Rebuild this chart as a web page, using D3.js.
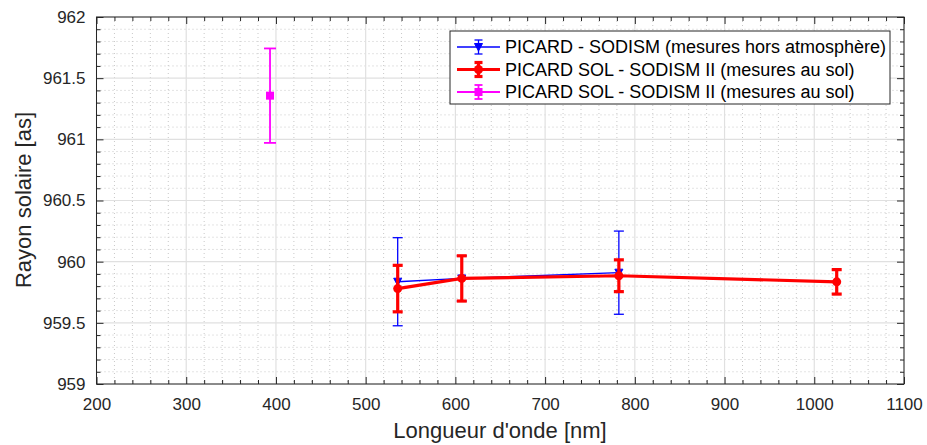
<!DOCTYPE html>
<html>
<head>
<meta charset="utf-8">
<script src="https://cdn.jsdelivr.net/npm/d3@7"></script>
<style>
  body { margin: 0; background: #fff; }
  svg { font-family: "Liberation Sans", Arial, sans-serif; }
</style>
</head>
<body>
<svg width="927" height="445"></svg>
<script>
// data
var horsWl = [535.7, 607.1, 782.2];
var horsRayon = [959.836, 959.863, 959.91];
var horsErr = [0.36, 0.185, 0.34];

var solWl = [535.7, 607.1, 782.2, 1025];
var solRayon = [959.78, 959.863, 959.885, 959.835];
var solErr = [0.19, 0.185, 0.13, 0.1];

var sol2Wl = [393.4];
var sol2Rayon = [961.357];
var sol2Err = [0.386];

var xTicks = [200, 300, 400, 500, 600, 700, 800, 900, 1000, 1100];
var yTicks = [959, 959.5, 960, 960.5, 961, 961.5, 962];

var legendLabels = [
  "PICARD - SODISM (mesures hors atmosphère)",
  "PICARD SOL - SODISM II (mesures au sol)",
  "PICARD SOL - SODISM II (mesures au sol)"
];

var svg = d3.select("svg"),
  margin = { top: 17, right: 23, bottom: 61, left: 96.5 },
  width = +svg.attr("width") - margin.left - margin.right,
  height = +svg.attr("height") - margin.top - margin.bottom;

var x = d3.scaleLinear().domain([200, 1100]).range([0, width]),
  y = d3.scaleLinear().domain([959, 962]).range([height, 0]);

var g = svg.append("g")
  .attr("transform", "translate(" + margin.left + "," + margin.top + ")");

// minor grid (dotted)
var xMinor = d3.range(220, 1100, 20).filter(function (v) { return v % 100 !== 0; });
var yMinor = d3.range(0, 30).map(function (i) { return 959 + i * 0.1; })
  .filter(function (v, i) { return i % 5 !== 0; });

g.selectAll(".xminor").data(xMinor).enter().append("line")
  .attr("x1", function (d) { return x(d); }).attr("x2", function (d) { return x(d); })
  .attr("y1", 0).attr("y2", height)
  .attr("stroke", "#c8c8c8").attr("stroke-dasharray", "1,3");
g.selectAll(".yminor").data(yMinor).enter().append("line")
  .attr("y1", function (d) { return y(d); }).attr("y2", function (d) { return y(d); })
  .attr("x1", 0).attr("x2", width)
  .attr("stroke", "#c8c8c8").attr("stroke-dasharray", "1,3");

// major grid
g.selectAll(".xgrid").data(xTicks).enter().append("line")
  .attr("x1", function (d) { return x(d); }).attr("x2", function (d) { return x(d); })
  .attr("y1", 0).attr("y2", height)
  .attr("stroke", "#e0e0e0").attr("stroke-width", 1.2);
g.selectAll(".ygrid").data(yTicks).enter().append("line")
  .attr("y1", function (d) { return y(d); }).attr("y2", function (d) { return y(d); })
  .attr("x1", 0).attr("x2", width)
  .attr("stroke", "#e0e0e0").attr("stroke-width", 1.2);

// axes with inward ticks
function styleAxis(sel) {
  sel.select(".domain").remove();
  sel.selectAll(".tick line").attr("stroke", "#262626");
  sel.selectAll(".tick text").attr("fill", "#262626").style("font-size", "17px");
}

g.append("g").attr("transform", "translate(0," + height + ")")
  .call(d3.axisBottom(x).tickValues(xTicks).tickSizeInner(-7).tickSizeOuter(0).tickPadding(14)
    .tickFormat(d3.format("d")))
  .call(styleAxis);
g.append("g").attr("transform", "translate(0," + height + ")")
  .call(d3.axisBottom(x).tickValues(xMinor).tickSizeInner(-4).tickSizeOuter(0).tickFormat(""))
  .call(styleAxis);
g.append("g")
  .call(d3.axisTop(x).tickValues(xTicks).tickSizeInner(-7).tickSizeOuter(0).tickFormat(""))
  .call(styleAxis);
g.append("g")
  .call(d3.axisTop(x).tickValues(xMinor).tickSizeInner(-4).tickSizeOuter(0).tickFormat(""))
  .call(styleAxis);

g.append("g")
  .call(d3.axisLeft(y).tickValues(yTicks).tickSizeInner(-7).tickSizeOuter(0).tickPadding(11)
    .tickFormat(d3.format("")))
  .call(styleAxis);
g.append("g")
  .call(d3.axisLeft(y).tickValues(yMinor).tickSizeInner(-4).tickSizeOuter(0).tickFormat(""))
  .call(styleAxis);
g.append("g").attr("transform", "translate(" + width + ",0)")
  .call(d3.axisRight(y).tickValues(yTicks).tickSizeInner(-7).tickSizeOuter(0).tickFormat(""))
  .call(styleAxis);
g.append("g").attr("transform", "translate(" + width + ",0)")
  .call(d3.axisRight(y).tickValues(yMinor).tickSizeInner(-4).tickSizeOuter(0).tickFormat(""))
  .call(styleAxis);

g.append("rect")
  .attr("width", width).attr("height", height)
  .attr("fill", "none").attr("stroke", "#262626").attr("stroke-width", 1);

// axis labels
svg.append("text")
  .attr("x", 500).attr("y", 438)
  .attr("text-anchor", "middle")
  .attr("fill", "#262626").style("font-size", "22px")
  .text("Longueur d'onde [nm]");
svg.append("text")
  .attr("transform", "translate(31," + 200 + ") rotate(-90)")
  .attr("text-anchor", "middle")
  .attr("fill", "#262626").style("font-size", "22px")
  .text("Rayon solaire [as]");

// series
function zip(wl, r, e) {
  return wl.map(function (w, i) { return { wl: w, r: r[i], e: e[i] }; });
}
var series = [
  { data: zip(horsWl, horsRayon, horsErr), color: "#0000ff", lw: 1.3, cap: 5, marker: "tri" },
  { data: zip(solWl, solRayon, solErr), color: "#ff0000", lw: 3.2, cap: 5, marker: "circle" },
  { data: zip(sol2Wl, sol2Rayon, sol2Err), color: "#ff00ff", lw: 1.8, cap: 6, marker: "square" }
];

var line = d3.line()
  .x(function (d) { return x(d.wl); })
  .y(function (d) { return y(d.r); });

function drawMarker(sel, s, cx, cy) {
  if (s.marker === "tri") {
    sel.append("path")
      .attr("d", "M" + (cx - 4) + "," + (cy - 3.5) + "L" + (cx + 4) + "," + (cy - 3.5) + "L" + cx + "," + (cy + 4) + "Z")
      .attr("fill", s.color).attr("stroke", s.color);
  } else if (s.marker === "circle") {
    sel.append("circle").attr("cx", cx).attr("cy", cy).attr("r", 4.5).attr("fill", s.color);
  } else {
    sel.append("rect").attr("x", cx - 4).attr("y", cy - 4).attr("width", 8).attr("height", 8)
      .attr("fill", s.color);
  }
}

series.forEach(function (s) {
  var sg = g.append("g");
  sg.append("path").datum(s.data)
    .attr("d", line).attr("fill", "none")
    .attr("stroke", s.color).attr("stroke-width", s.lw);
  s.data.forEach(function (d) {
    var cx = x(d.wl), y0 = y(d.r - d.e), y1 = y(d.r + d.e);
    sg.append("line").attr("x1", cx).attr("x2", cx).attr("y1", y0).attr("y2", y1)
      .attr("stroke", s.color).attr("stroke-width", s.lw);
    [y0, y1].forEach(function (yy) {
      sg.append("line").attr("x1", cx - s.cap).attr("x2", cx + s.cap).attr("y1", yy).attr("y2", yy)
        .attr("stroke", s.color).attr("stroke-width", s.lw);
    });
    drawMarker(sg, s, cx, y(d.r));
  });
});

// legend
var leg = svg.append("g").attr("transform", "translate(450,31)");
leg.append("rect").attr("width", 440).attr("height", 73)
  .attr("fill", "#fff").attr("stroke", "#262626").attr("stroke-width", 1);
series.forEach(function (s, i) {
  var cy = 16 + i * 22.5;
  var lg = leg.append("g");
  lg.append("line").attr("x1", 7).attr("x2", 50).attr("y1", cy).attr("y2", cy)
    .attr("stroke", s.color).attr("stroke-width", s.lw);
  lg.append("line").attr("x1", 28.5).attr("x2", 28.5).attr("y1", cy - 7).attr("y2", cy + 7)
    .attr("stroke", s.color).attr("stroke-width", s.lw);
  [cy - 7, cy + 7].forEach(function (yy) {
    lg.append("line").attr("x1", 24.5).attr("x2", 32.5).attr("y1", yy).attr("y2", yy)
      .attr("stroke", s.color).attr("stroke-width", s.lw);
  });
  drawMarker(lg, s, 28.5, cy);
  leg.append("text").attr("x", 55).attr("y", cy).attr("dy", "0.35em")
    .attr("fill", "#000").style("font-size", "18px")
    .text(legendLabels[i]);
});
</script>
</body>
</html>
